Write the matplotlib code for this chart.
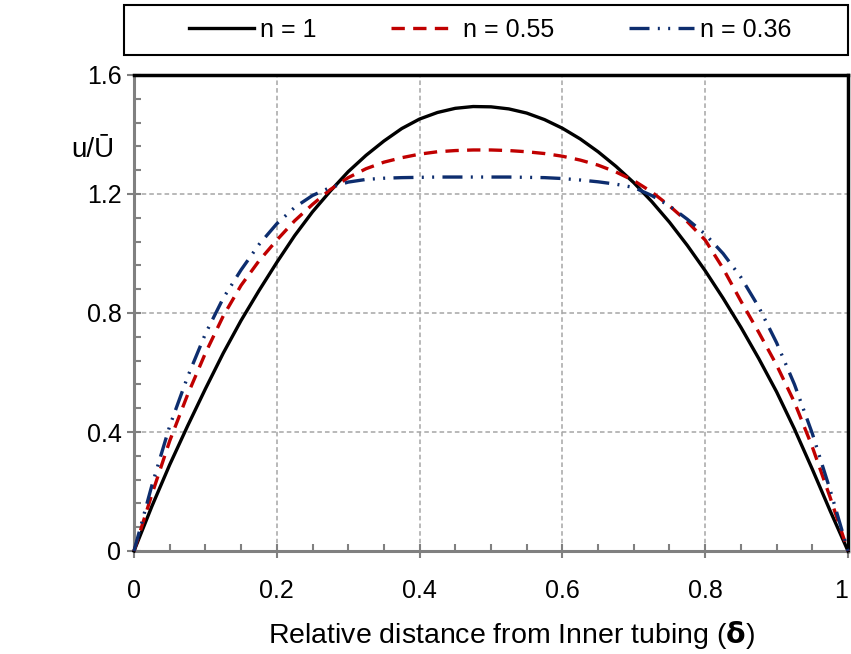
import matplotlib
matplotlib.use('Agg')
import matplotlib.pyplot as plt
from matplotlib.ticker import MultipleLocator, FuncFormatter
from matplotlib.patches import Rectangle

# velocity profiles u/U-bar vs relative distance
delta = [0.0, 0.025, 0.05, 0.075, 0.1, 0.125, 0.15, 0.175, 0.2, 0.225, 0.25, 0.275,
         0.3, 0.325, 0.35, 0.375, 0.4, 0.425, 0.45, 0.475, 0.5, 0.525, 0.55, 0.575,
         0.6, 0.625, 0.65, 0.675, 0.7, 0.725, 0.75, 0.775, 0.8, 0.825, 0.85, 0.875,
         0.9, 0.925, 0.95, 0.975, 1.0]
u_n1 = [0.0, 0.15, 0.29, 0.42, 0.545, 0.665, 0.775, 0.875, 0.97, 1.06, 1.14, 1.21,
        1.275, 1.33, 1.378, 1.42, 1.452, 1.474, 1.488, 1.494, 1.493, 1.486, 1.472, 1.45,
        1.421, 1.385, 1.342, 1.293, 1.238, 1.175, 1.105, 1.027, 0.942, 0.85, 0.752, 0.647,
        0.535, 0.41, 0.275, 0.135, 0.0]
u_n055 = [0.0, 0.19, 0.37, 0.525, 0.665, 0.79, 0.893, 0.975, 1.045, 1.11, 1.165, 1.215,
          1.255, 1.285, 1.307, 1.322, 1.334, 1.342, 1.346, 1.348, 1.348, 1.346, 1.342, 1.336,
          1.327, 1.314, 1.297, 1.274, 1.245, 1.207, 1.16, 1.107, 1.045, 0.95, 0.84, 0.735,
          0.625, 0.5, 0.35, 0.18, 0.0]
u_n036 = [0.0, 0.22, 0.42, 0.585, 0.73, 0.85, 0.945, 1.03, 1.10, 1.155, 1.195, 1.222,
          1.24, 1.249, 1.253, 1.255, 1.256, 1.257, 1.257, 1.257, 1.257, 1.257, 1.256, 1.255,
          1.252, 1.247, 1.241, 1.233, 1.222, 1.195, 1.16, 1.115, 1.065, 1.0, 0.92, 0.82,
          0.70, 0.56, 0.395, 0.205, 0.0]

labels = ['n = 1', 'n = 0.55', 'n = 0.36']
x_ticks = [0, 0.2, 0.4, 0.6, 0.8, 1]
x_ticklabels = ['0', '0.2', '0.4', '0.6', '0.8', '1']

plt.rcParams['font.family'] = ['Liberation Sans', 'DejaVu Sans']
plt.rcParams['mathtext.fontset'] = 'custom'
plt.rcParams['mathtext.bf'] = 'DejaVu Sans:bold'

fig = plt.figure(figsize=(8.51, 6.54), dpi=100)
ax = fig.add_axes([134 / 851, 1 - 551 / 654, 714 / 851, 476 / 654])

ax.plot(delta, u_n1, color='black', lw=2.4, label=labels[0], clip_on=False, zorder=4)
ax.plot(delta, u_n055, color='#c00000', lw=2.4, ls=(0, (4, 2.5)), label=labels[1],
        clip_on=False, zorder=4)
ax.plot(delta, u_n036, color='#0d2d6e', lw=2.4, ls=(0, (6, 2.5, 0.6, 2.5, 0.6, 2.5)),
        label=labels[2], clip_on=False, zorder=4)

ax.set_xlim(0, 1)
ax.set_ylim(0, 1.6)
ax.set_xticks(x_ticks, labels=x_ticklabels)
ax.xaxis.set_minor_locator(MultipleLocator(0.05))
ax.yaxis.set_major_locator(MultipleLocator(0.4))
ax.yaxis.set_minor_locator(MultipleLocator(0.08))
ax.yaxis.set_major_formatter(FuncFormatter(lambda v, p: f'{v:g}'))

ax.grid(which='major', color='#a6a6a6', ls=(0, (3, 2)), lw=1.1)
ax.tick_params(which='major', direction='inout', length=10, width=1.5,
               color='#808080', labelsize=18)
ax.tick_params(axis='y', which='major', pad=4)
ax.tick_params(axis='x', which='major', pad=15)
ax.tick_params(which='minor', direction='in', length=5, width=1.5, color='#808080')

for side in ['left', 'bottom']:
    ax.spines[side].set_color('#808080')
    ax.spines[side].set_linewidth(2.2)
for side in ['top', 'right']:
    ax.spines[side].set_color('black')
    ax.spines[side].set_linewidth(2.5)

# keep the "1" label inside the figure
ax.xaxis.get_major_ticks()[-1].label1.set_horizontalalignment('right')
ax.xaxis.get_major_ticks()[-1].label1.set_x(1.004)

ax.set_xlabel('Relative distance from Inner tubing ($\\mathbf{\\delta}$)', fontsize=20.5)
ax.xaxis.set_label_coords((512 - 134) / 714, -0.176)
ax.xaxis.label.set_verticalalignment('center')
fig.text(93 / 851, 1 - 150 / 654, 'u/Ū', fontsize=20, ha='center', va='center')

# legend box across the top
fig.patches.append(Rectangle((124 / 851, 1 - 55 / 654), 724 / 851, 50 / 654,
                             transform=fig.transFigure, fill=False,
                             edgecolor='black', lw=1.5))
fig.legend(loc='center', ncol=3, fontsize=18, frameon=False,
           bbox_to_anchor=(490 / 851, 1 - 30 / 654),
           handlelength=2.6, handletextpad=0.25, columnspacing=3.0)

fig.savefig('out.png', dpi=100)
